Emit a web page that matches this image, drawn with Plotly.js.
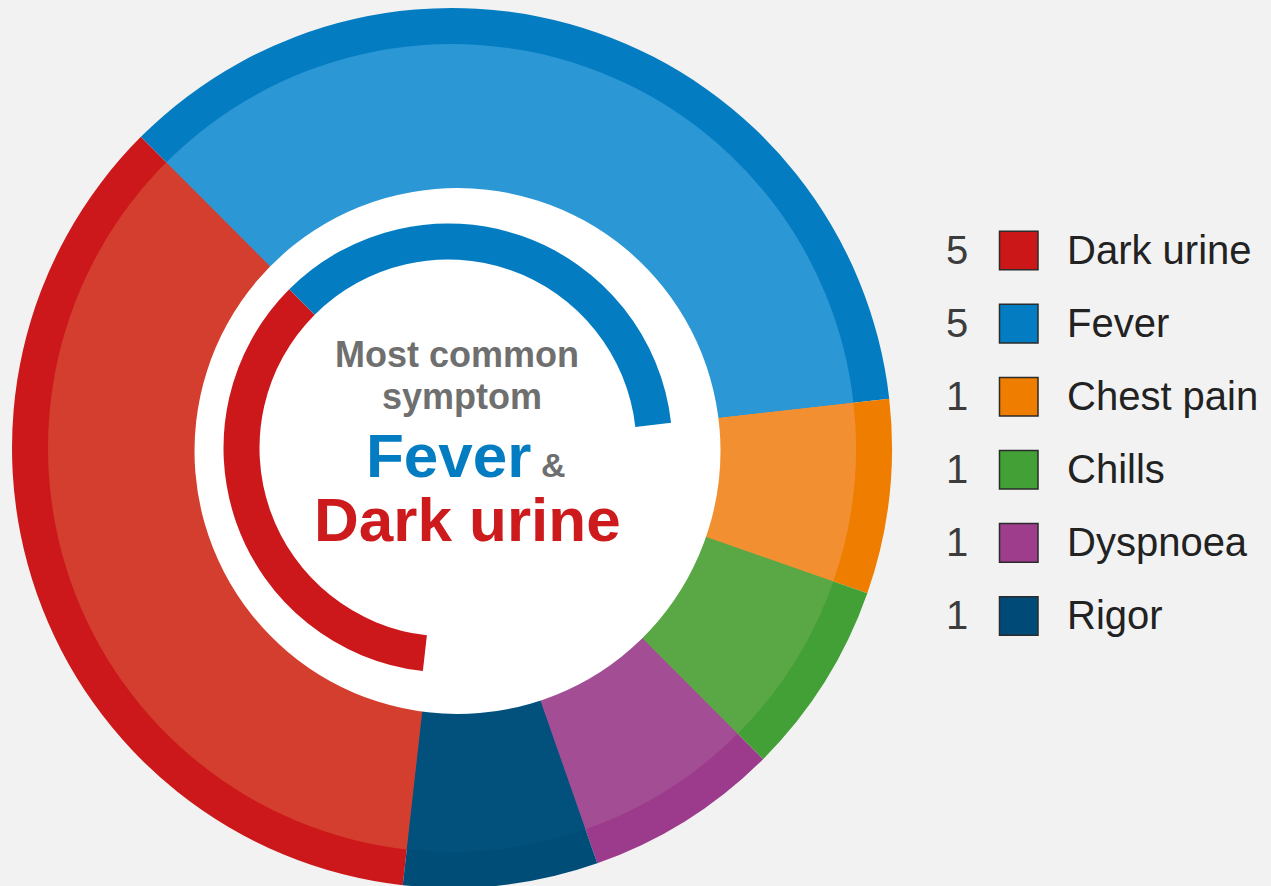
<!DOCTYPE html>
<html>
<head>
<meta charset="utf-8">
<script src="https://cdn.plot.ly/plotly-3.0.1.min.js"></script>
<style>
  html, body { margin: 0; padding: 0; background: #f2f2f2; overflow: hidden; }
  #chart { width: 1271px; height: 890px; }
</style>
</head>
<body>
<div id="chart"></div>
<script>
// ---- data ----
const categories = ['Dark urine', 'Fever', 'Chest pain', 'Chills', 'Dyspnoea', 'Rigor'];
const counts = [5, 5, 1, 1, 1, 1];
const outerColors = ['#cc181a', '#047cc1', '#ef7d00', '#43a037', '#9c3b8b', '#004d78'];
const innerColors = ['#d43e2e', '#2b97d4', '#f29031', '#5aa845', '#a34d94', '#01517c'];
const arcColors = ['#cc181a', '#047cc1', 'rgba(0,0,0,0)', 'rgba(0,0,0,0)', 'rgba(0,0,0,0)', 'rgba(0,0,0,0)'];
const legendColors = ['#cc1719', '#047cc2', '#ef7d00', '#43a037', '#9d3d8c', '#004a78'];
const centerTitle = ['Most common', 'symptom'];
const highlight = ['Fever', 'Dark urine'];

// ---- layout helpers ----
const W = 1271, H = 890;
const FONT = 'Liberation Sans, Arial, Helvetica, sans-serif';
function dom(cx, cy, r) {
  return { x: [(cx - r) / W, (cx + r) / W], y: [1 - (cy + r) / H, 1 - (cy - r) / H] };
}
const ROT = 186.43;
const common = {
  type: 'pie', sort: false, direction: 'clockwise', rotation: ROT,
  textinfo: 'none', hoverinfo: 'skip', showlegend: false
};

const traces = [
  Object.assign({}, common, {
    labels: categories, values: counts,
    marker: { colors: outerColors, line: { width: 0 } },
    domain: dom(452, 448, 440), hole: 248 / 440
  }),
  Object.assign({}, common, {
    labels: categories, values: counts,
    marker: { colors: innerColors, line: { width: 0 } },
    domain: dom(452, 448, 404), hole: 248 / 404
  }),
  Object.assign({}, common, {
    labels: ['disc'], values: [1],
    marker: { colors: ['#ffffff'], line: { width: 0 } },
    domain: dom(457.5, 451, 263)
  }),
  Object.assign({}, common, {
    labels: categories, values: counts,
    marker: { colors: arcColors, line: { width: 0 } },
    domain: dom(448, 448, 224.5), hole: 188.5 / 224.5
  })
];

function px(x) { return x / W; }
function py(y) { return 1 - y / H; }

const annotations = [];
// center text
annotations.push({ text: centerTitle[0], x: px(457), y: py(354.8), xref: 'paper', yref: 'paper',
  xanchor: 'center', yanchor: 'middle', showarrow: false,
  font: { family: FONT, size: 36, color: '#6f6f6f', weight: 'bold' } });
annotations.push({ text: centerTitle[1], x: px(461.7), y: py(396.8), xref: 'paper', yref: 'paper',
  xanchor: 'center', yanchor: 'middle', showarrow: false,
  font: { family: FONT, size: 36, color: '#6f6f6f', weight: 'bold' } });
annotations.push({ text: highlight[0] + "<span style='font-size:34px;color:#6f6f6f'> &amp;</span>",
  x: px(465), y: py(476.7 - 0.3465 * 62), xref: 'paper', yref: 'paper',
  xanchor: 'center', yanchor: 'middle', showarrow: false,
  font: { family: FONT, size: 62, color: '#047cc2', weight: 'bold' } });
annotations.push({ text: highlight[1], x: px(467.5), y: py(540.7 - 0.3465 * 62), xref: 'paper', yref: 'paper',
  xanchor: 'center', yanchor: 'middle', showarrow: false,
  font: { family: FONT, size: 62, color: '#cc1a1d', weight: 'bold' } });

// custom legend
const shapes = [];
const rowTop = 250.5, rowStep = 73.1;
categories.forEach(function (c, i) {
  const cy = rowTop + i * rowStep;
  annotations.push({ text: String(counts[i]), x: px(957), y: py(cy - 1), xref: 'paper', yref: 'paper',
    xanchor: 'center', yanchor: 'middle', showarrow: false,
    font: { family: FONT, size: 40, color: '#3c3c3c' } });
  annotations.push({ text: c, x: px(1065), y: py(cy - 1), xref: 'paper', yref: 'paper',
    xanchor: 'left', yanchor: 'middle', showarrow: false,
    font: { family: FONT, size: 40, color: '#222222' } });
  shapes.push({ type: 'rect', xref: 'paper', yref: 'paper',
    x0: px(999.5), x1: px(1038), y0: py(cy - 19.3), y1: py(cy + 19.3),
    fillcolor: legendColors[i], line: { color: '#2b2b2b', width: 1.5 } });
});

const layout = {
  width: W, height: H,
  margin: { l: 0, r: 0, t: 0, b: 0, pad: 0 },
  paper_bgcolor: '#f2f2f2', plot_bgcolor: '#f2f2f2',
  showlegend: false,
  annotations: annotations,
  shapes: shapes
};

Plotly.newPlot('chart', traces, layout, { displayModeBar: false, staticPlot: true });
</script>
</body>
</html>
